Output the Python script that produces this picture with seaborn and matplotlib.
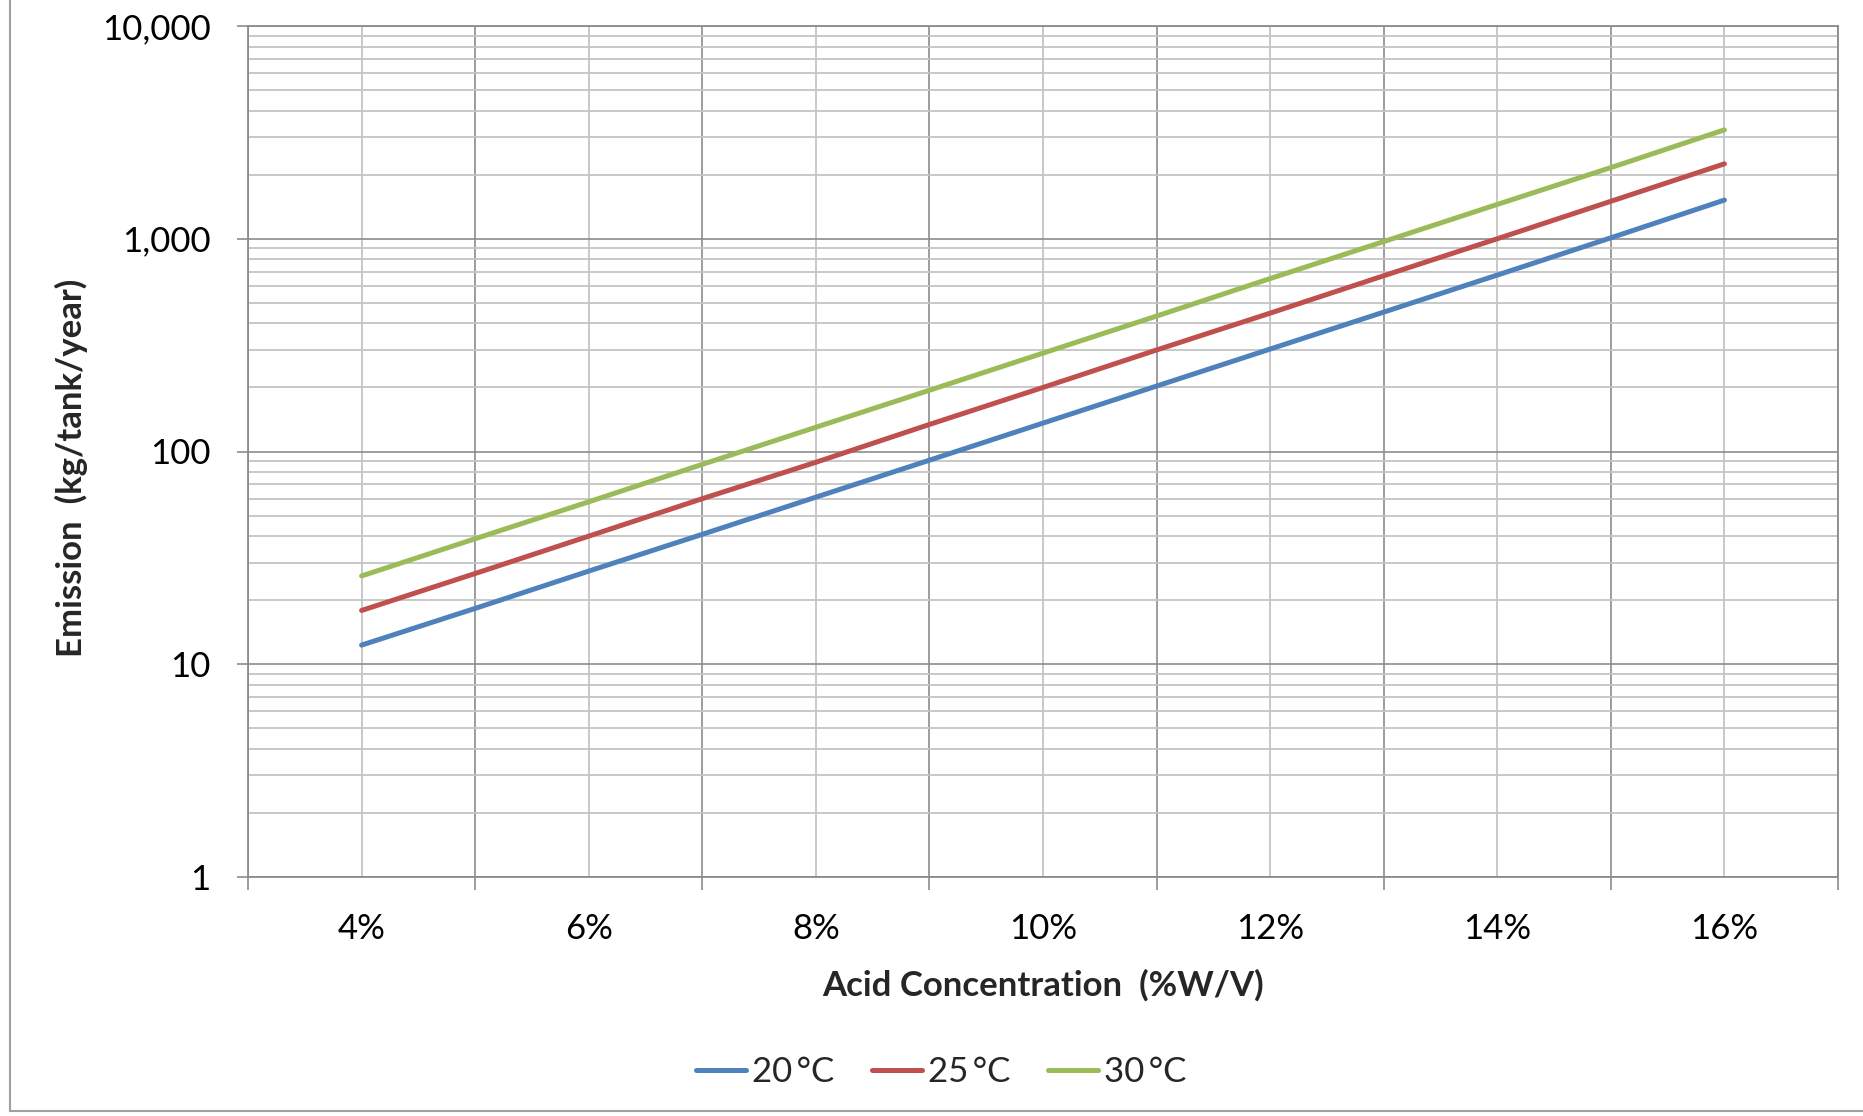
import numpy as np
import pandas as pd
import matplotlib
matplotlib.use('Agg')
import matplotlib.pyplot as plt
import matplotlib.ticker as mticker
import seaborn as sns

# koncentracija, %W/V
konc = [4, 5, 6, 7, 8, 9, 10, 11, 12, 13, 14, 15, 16]
# emisija kg/tank/year (nuskaityta nuo grafiko)
em_20 = [12.3, 18.3, 27.4, 40.8, 61, 91, 136, 203, 303, 452, 675, 1010, 1520]
em_25 = [17.9, 26.7, 40, 60, 89, 134, 200, 300, 447, 670, 1000, 1500, 2250]
em_30 = [26, 38.9, 58, 87, 130, 194, 290, 433, 650, 970, 1450, 2160, 3250]
serijos = ['20\u2009°C', '25\u2009°C', '30\u2009°C']
spalvos = ['#4F81BD', '#C0504D', '#9BBB59']

df = pd.DataFrame({
    'Koncentracija': konc * 3,
    'Emisija': em_20 + em_25 + em_30,
    'Temperatura': [serijos[0]] * len(konc) + [serijos[1]] * len(konc) + [serijos[2]] * len(konc),
})

sns.set_style('white')
plt.rcParams['font.family'] = ['Lato', 'DejaVu Sans']

fig = plt.figure(figsize=(18.63, 11.16), dpi=100)
ax = fig.add_axes([248 / 1863, 1 - 877 / 1116, 1590 / 1863, 851 / 1116])

grafikas = sns.lineplot(data=df, x='Koncentracija', y='Emisija', hue='Temperatura',
                        palette=spalvos, linewidth=3.6, ax=ax, legend=True)

ax.set_yscale('log')
ax.set_ylim(1, 10000)
ax.set_xlim(3, 17)

grid_major = '#8c8c8c'
grid_minor = '#c4c4c4'

ax.yaxis.set_major_locator(mticker.LogLocator(base=10, numticks=10))
ax.yaxis.set_minor_locator(mticker.LogLocator(base=10, subs=np.arange(2, 10), numticks=100))
ax.yaxis.set_major_formatter(mticker.FuncFormatter(lambda v, p: f'{v:,.0f}'))
ax.yaxis.set_minor_formatter(mticker.NullFormatter())

ax.xaxis.set_major_locator(mticker.FixedLocator(np.arange(3, 18, 2)))
ax.xaxis.set_minor_locator(mticker.FixedLocator(np.arange(4, 17, 2)))
ax.xaxis.set_major_formatter(mticker.NullFormatter())
ax.xaxis.set_minor_formatter(mticker.FuncFormatter(lambda v, p: f'{v:.0f}%'))

ax.grid(True, which='major', color=grid_major, linewidth=1.2)
ax.grid(True, which='minor', color=grid_minor, linewidth=1.3)
ax.set_axisbelow(True)

ax.tick_params(axis='y', which='major', left=True, length=8, width=1.2, color=grid_major,
               labelsize=25, pad=19, labelcolor='black')
ax.tick_params(axis='y', which='minor', left=False, length=0)
ax.tick_params(axis='x', which='major', bottom=True, length=9.5, width=1.2, color=grid_major)
ax.tick_params(axis='x', which='minor', bottom=True, length=0, labelsize=25, pad=26,
               labelcolor='black')

for s in ax.spines.values():
    s.set_color(grid_major)
    s.set_linewidth(1.3)

ax.set_xlabel('Acid Concentration  (%W/V)', fontsize=25, fontweight='bold')
ax.set_ylabel('Emission  (kg/tank/year)', fontsize=25, fontweight='bold')
ax.xaxis.label.set_va('center')
ax.xaxis.set_label_coords(0.5, (877 - 985) / 851)
ax.yaxis.label.set_va('center')
ax.yaxis.set_label_coords((71 - 248) / 1590, (877 - 468) / 851)

ax.legend_.remove()
rankenos, _ = ax.get_legend_handles_labels()
fig.legend(rankenos, serijos, loc='center', bbox_to_anchor=(941 / 1863, 1 - 1072 / 1116),
           ncol=3, frameon=False, fontsize=25, handlelength=1.45, handletextpad=0.15,
           columnspacing=1.1)

# remelis aplink diagrama
fig.add_artist(plt.Line2D([10 / 1863, 10 / 1863], [1 - 1111 / 1116, 1], color='#a0a0a0',
                          linewidth=1.5, transform=fig.transFigure))
fig.add_artist(plt.Line2D([10 / 1863, 1], [1 - 1111 / 1116, 1 - 1111 / 1116], color='#a0a0a0',
                          linewidth=1.5, transform=fig.transFigure))

fig.savefig('out.png', dpi=100)
